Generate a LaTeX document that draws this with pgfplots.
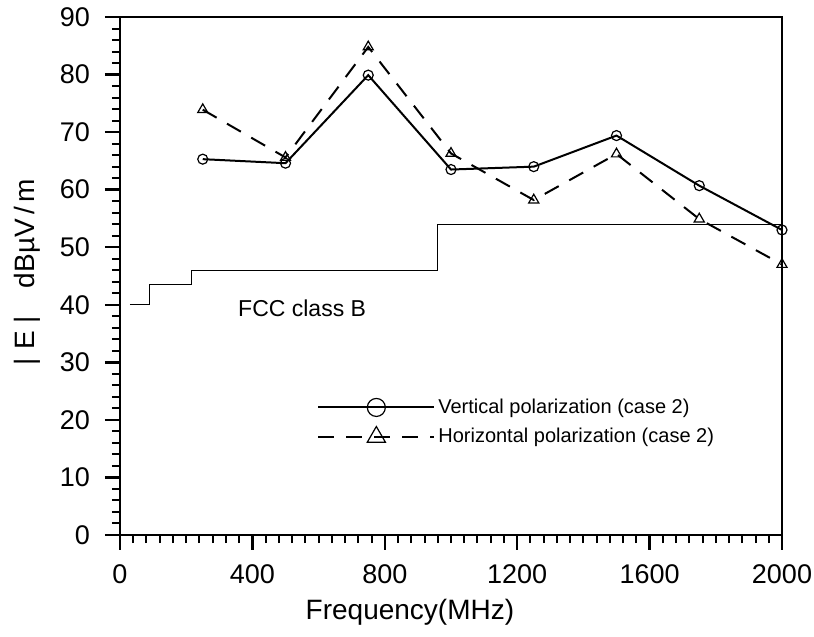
\documentclass[border=0pt]{standalone}
\usepackage{pgfplots}
\pgfplotsset{compat=1.18}
\usepackage{fontspec}
\setmainfont{Liberation Sans}
\begin{document}
\begin{tikzpicture}
\useasboundingbox (-60pt,-51pt) rectangle (347pt,267.5pt);
\begin{axis}[
  at={(0pt,0pt)}, anchor=south west,
  scale only axis, width=331pt, height=259pt,
  xmin=0, xmax=2000, ymin=0, ymax=90,
  xtick={0,400,...,2000}, ytick={0,10,...,90},
  minor x tick num=9, minor y tick num=4,
  tick align=outside, xtick pos=bottom, ytick pos=left,
  major tick length=7.5pt, minor tick length=4pt,
  every major tick/.append style={line width=1.2pt, black},
  every minor tick/.append style={line width=1pt, black},
  axis line style={line width=1.2pt},
  /pgf/number format/assume math mode=true,
  /pgf/number format/1000 sep={},
  ticklabel style={font=\fontsize{13.5}{16}\selectfont},
  xticklabel style={yshift=-4pt},
  yticklabel style={xshift=-4pt},
  xlabel={Frequency(MHz)},
  ylabel={| E |\quad dBµV\,/\,m},
  xlabel style={font=\fontsize{14}{17}\selectfont, at={(axis description cs:0.438,0)}, anchor=center, yshift=-38.5pt},
  ylabel style={font=\fontsize{14}{17}\selectfont, at={(axis description cs:-0.1405,0.508)}, anchor=center},
  legend style={at={(axis cs:595,19.6)}, anchor=west, draw=none, fill=none,
    font=\fontsize{10}{12}\selectfont, inner sep=0pt, row sep=3pt,
    nodes={inner sep=1.5pt}},
  legend cell align=left,
  legend image code/.code={\draw[mark repeat=2,mark phase=2,#1, every mark/.append style={scale=1.8}] plot coordinates {(0pt,0pt) (29pt,0pt) (58pt,0pt)};},
]
\addplot[black, line width=1pt, mark=o, mark size=2.5pt, mark options={solid, line width=0.6pt}] coordinates {
  (250,65.3) (500,64.6) (750,79.9) (1000,63.5) (1250,64.0) (1500,69.4) (1750,60.7) (2000,53.0)
};
\addlegendentry{Vertical polarization (case 2)}
\addplot[black, line width=1pt, dash pattern=on 8pt off 6pt, mark=triangle, mark size=2.9pt, mark options={solid, line width=0.6pt}] coordinates {
  (250,73.9) (500,65.6) (750,84.8) (1000,66.3) (1250,58.2) (1500,66.2) (1750,54.9) (2000,47.0)
};
\addlegendentry{Horizontal polarization (case 2)}
\addplot[black, line width=0.5pt, const plot, forget plot] coordinates {
  (30,40) (88,43.5) (216,46) (960,54) (2000,54)
};
\node[anchor=west, font=\fontsize{11.5}{14}\selectfont, inner sep=0pt] at (axis cs:356,39.4) {FCC class B};
\end{axis}
\end{tikzpicture}
\end{document}
